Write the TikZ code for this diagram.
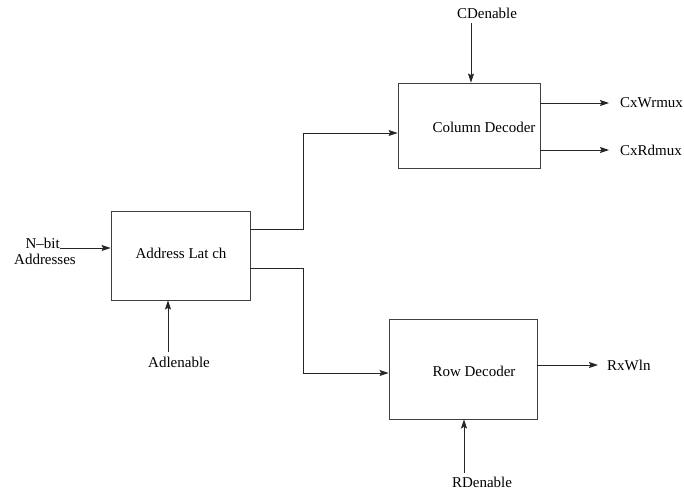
\documentclass[tikz,border=0pt]{standalone}
\usepackage{fontspec}
\setmainfont{Liberation Serif}
\usetikzlibrary{arrows.meta}
\begin{document}
\begin{tikzpicture}[x=1pt,y=-1pt,
  every node/.style={font=\fontsize{15}{16}\selectfont, inner sep=0pt},
  blk/.style={draw=black!75, line width=0.9pt},
  wire/.style={draw=black!85, line width=0.9pt},
  sig/.style={wire, -{Stealth[length=9pt,width=6pt,inset=1.5pt]}}]
\useasboundingbox (0,0) rectangle (684,491);

% blocks
\node[blk, minimum width=139pt, minimum height=89pt] (al) at (180.5,255.5) {};
\node (altxt) at (181,253) {Address Lat ch};
\node[blk, minimum width=142pt, minimum height=85pt] (cd) at (469,125.5) {};
\node (cdtxt) at (484,127) {Column Decoder};
\node[blk, minimum width=148pt, minimum height=100pt] (rd) at (463,369) {};
\node (rdtxt) at (474,371) {Row Decoder};

% address input
\node[anchor=east] (nbit) at (60,243) {N--bit};
\node (addr) at (45,259) {Addresses};
\draw[sig] (60,248) -- (al.west |- 0,248);

% enable inputs
\node (adl) at (179,362) {Adlenable};
\coordinate (adlend) at (168,352);
\draw[sig] (adlend) -- (al.south -| adlend);

\node (cden) at (487,13) {CDenable};
\coordinate (cdstart) at (471,23);
\draw[sig] (cdstart) -- (cd.north -| cdstart);

\node (rden) at (482,482) {RDenable};
\coordinate (rdstart) at (464,473);
\draw[sig] (rdstart) -- (rd.south -| rdstart);

% latch to decoders
\draw[sig] (al.east |- 0,229) -- (303,229) |- (cd.west |- 0,133);
\draw[sig] (al.east |- 0,268) -- (303,268) |- (rd.west |- 0,373);

% decoder outputs
\node[anchor=west] (wr) at (620,103) {CxWrmux};
\node[anchor=west] (rdm) at (620,150) {CxRdmux};
\node[anchor=west] (wl) at (607,365) {RxWln};
\draw[sig] (cd.east |- wr) -- ([xshift=-11pt]wr.west);
\draw[sig] (cd.east |- rdm) -- ([xshift=-11pt]rdm.west);
\draw[sig] (rd.east |- wl) -- ([xshift=-9pt]wl.west);
\end{tikzpicture}
\end{document}
